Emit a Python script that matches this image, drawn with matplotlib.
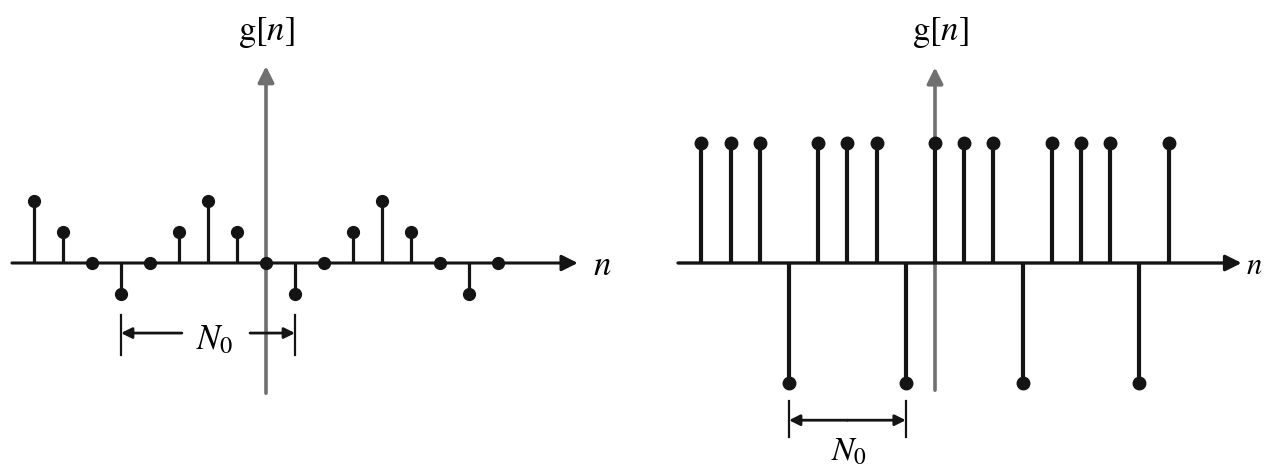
import matplotlib.pyplot as plt
import numpy as np

plt.rcParams['mathtext.fontset'] = 'stix'
plt.rcParams['font.family'] = ['Liberation Serif', 'DejaVu Serif']

W, H = 1265, 470

# sample indices and values
n_left = np.arange(-8, 9)
g_left = [2, 1, 0, -1, 0, 1, 2, 1, 0, -1, 0, 1, 2, 1, 0, -1, 0]
period_left = (-5, 1)      # N0 bracket, from n to n

n_right = np.arange(-8, 9)
g_right = [1, 1, 1, -1, 1, 1, 1, -1, 1, 1, 1, -1, 1, 1, 1, -1, 1]
period_right = (-5, -1)

STEM = '#141414'
AXIS_GREY = '#707070'


def make_panel(fig, x0, dx, y0, dy):
    # axes over the whole figure, n=0 at pixel x0, value 0 at pixel y0 (from top)
    ax = fig.add_axes([0, 0, 1, 1])
    ax.set_xlim(-x0 / dx, (W - x0) / dx)
    ax.set_ylim(-(H - y0) / dy, y0 / dy)
    ax.axis('off')
    ax.patch.set_alpha(0)
    return ax


def arrow(ax, start, end, color, lw, ms, z=3):
    ax.annotate('', xy=end, xytext=start,
                arrowprops=dict(arrowstyle='-|>', color=color, lw=lw,
                                mutation_scale=ms, shrinkA=0, shrinkB=0),
                zorder=z)


def draw_stems(ax, n, g, lw, ms):
    markers, stems, base = ax.stem(n, g)
    base.set_visible(False)
    stems.set_color(STEM)
    stems.set_linewidth(lw)
    stems.set_zorder(4)
    markers.set_color(STEM)
    markers.set_markersize(ms)
    markers.set_zorder(5)


fig = plt.figure(figsize=(W / 100, H / 100), dpi=100)

# ---- left panel ----
ax1 = make_panel(fig, 266, 29.0, 263, 31.0)
arrow(ax1, (-8.76, 0), (10.75, 0), STEM, 2.2, 24)
arrow(ax1, (0, -4.2), (0, 6.35), AXIS_GREY, 2.6, 24, z=2)
draw_stems(ax1, n_left, g_left, 2.3, 8.5)
ax1.text(0, 7.45, r'$\mathrm{g}[n]$', fontsize=25, ha='center', va='center')
ax1.text(11.6, -0.1, r'$n$', fontsize=25, ha='center', va='center')

a, b = period_left
yb = -2.26
for xv in (a, b):
    ax1.plot([xv, xv], [-1.68, -2.97], color=STEM, lw=1.6)
arrow(ax1, (-2.9, yb), (a, yb), STEM, 2.0, 16)
arrow(ax1, (-0.55, yb), (b, yb), STEM, 2.0, 16)
ax1.text(-1.75, yb - 0.25, r'$N_0$', fontsize=25, ha='center', va='center')

# ---- right panel ----
ax2 = make_panel(fig, 935, 29.2, 263, 120.0)
arrow(ax2, (-8.8, 0), (10.5, 0), STEM, 2.4, 24)
arrow(ax2, (0, -1.06), (0, 1.63), AXIS_GREY, 2.6, 24, z=2)
draw_stems(ax2, n_right, g_right, 3.0, 9.0)
ax2.text(0.2, 1.92, r'$\mathrm{g}[n]$', fontsize=25, ha='center', va='center')
ax2.text(11.2, -0.03, r'$n$', fontsize=22, ha='right', va='center')

a, b = period_right
yb = -1.31
for xv in (a, b):
    ax2.plot([xv, xv], [-1.15, -1.45], color=STEM, lw=1.6)
arrow(ax2, (-3.0, yb), (a, yb), STEM, 2.0, 16)
arrow(ax2, (-3.0, yb), (b, yb), STEM, 2.0, 16)
ax2.text(-2.95, -1.58, r'$N_0$', fontsize=24, ha='center', va='center')

fig.savefig('out.png', dpi=100)
